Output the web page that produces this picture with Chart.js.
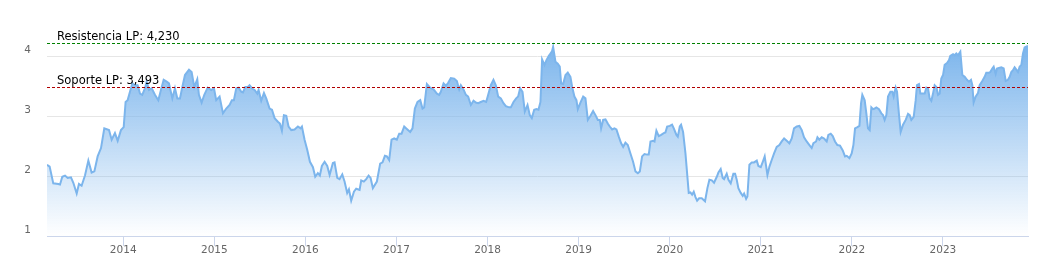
<!DOCTYPE html>
<html>
<head>
<meta charset="utf-8">
<script src="https://cdn.jsdelivr.net/npm/chart.js@4/dist/chart.umd.min.js"></script>
<style>
html,body{margin:0;padding:0;background:#fff;}
#wrap{position:relative;width:1043px;height:279px;}
</style>
</head>
<body>
<div id="wrap"><canvas id="c" width="1043" height="279"></canvas></div>
<script>
// x positions in decimal years
const dates = [
2013.163,2013.192,2013.232,2013.287,2013.306,2013.331,2013.361,2013.390,2013.426,2013.452,2013.489,2013.514,2013.543,2013.580,2013.617,2013.653,2013.683,2013.719,2013.756,2013.792,2013.844,2013.873,2013.909,2013.939,2013.975,
2014.005,2014.026,2014.048,2014.074,2014.100,2014.129,2014.158,2014.184,2014.209,2014.239,2014.257,2014.283,2014.312,2014.348,2014.385,2014.414,2014.444,2014.477,2014.502,2014.539,2014.568,2014.594,2014.623,2014.649,2014.678,2014.722,2014.751,2014.780,2014.813,2014.831,2014.861,2014.890,2014.927,2014.967,2014.996,
2015.021,2015.058,2015.095,2015.131,2015.168,2015.193,2015.215,2015.241,2015.267,2015.296,2015.314,2015.340,2015.369,2015.387,2015.413,2015.442,2015.472,2015.486,2015.515,2015.545,2015.570,2015.607,2015.633,2015.662,2015.698,2015.720,2015.742,2015.764,2015.790,2015.815,2015.845,2015.881,2015.918,2015.947,2015.962,2015.991,
2016.020,2016.050,2016.083,2016.108,2016.137,2016.159,2016.181,2016.211,2016.240,2016.266,2016.302,2016.320,2016.350,2016.375,2016.405,2016.430,2016.459,2016.478,2016.503,2016.533,2016.558,2016.595,2016.613,2016.642,2016.668,2016.694,2016.716,2016.741,2016.785,2016.821,2016.847,2016.873,2016.895,2016.920,2016.946,2016.975,
2017.004,2017.030,2017.056,2017.085,2017.114,2017.151,2017.176,2017.202,2017.231,2017.261,2017.286,2017.304,2017.334,2017.370,2017.407,2017.444,2017.469,2017.487,2017.517,2017.542,2017.568,2017.597,2017.634,2017.663,2017.689,2017.707,2017.736,2017.762,2017.787,2017.817,2017.846,2017.872,2017.897,2017.926,2017.956,2017.985,
2018.007,2018.036,2018.065,2018.091,2018.117,2018.146,2018.175,2018.201,2018.237,2018.256,2018.285,2018.314,2018.336,2018.358,2018.384,2018.409,2018.439,2018.464,2018.486,2018.512,2018.537,2018.559,2018.581,2018.599,2018.625,2018.647,2018.673,2018.691,2018.709,2018.720,2018.746,2018.771,2018.793,2018.808,2018.830,2018.856,2018.881,2018.910,2018.929,2018.954,2018.976,2018.991,
2019.020,2019.050,2019.075,2019.101,2019.130,2019.159,2019.185,2019.211,2019.233,2019.247,2019.269,2019.295,2019.320,2019.342,2019.368,2019.393,2019.415,2019.441,2019.467,2019.489,2019.514,2019.540,2019.569,2019.598,2019.624,2019.650,2019.672,2019.697,2019.723,2019.752,2019.770,2019.789,2019.818,2019.833,2019.854,2019.880,2019.906,2019.935,2019.953,2019.972,
2020.001,2020.026,2020.045,2020.074,2020.089,2020.111,2020.125,2020.147,2020.173,2020.191,2020.209,2020.228,2020.246,2020.264,2020.283,2020.301,2020.323,2020.352,2020.388,2020.414,2020.436,2020.462,2020.487,2020.517,2020.535,2020.560,2020.582,2020.597,2020.626,2020.645,2020.670,2020.699,2020.718,2020.736,2020.754,2020.780,2020.802,2020.817,2020.839,2020.853,2020.875,2020.901,2020.926,2020.956,2020.974,
2021.000,2021.022,2021.043,2021.073,2021.095,2021.120,2021.146,2021.175,2021.204,2021.230,2021.256,2021.285,2021.314,2021.340,2021.365,2021.395,2021.424,2021.450,2021.475,2021.504,2021.534,2021.559,2021.578,2021.607,2021.622,2021.643,2021.669,2021.695,2021.724,2021.742,2021.768,2021.790,2021.815,2021.841,2021.870,2021.900,2021.925,2021.944,2021.973,2021.998,
2022.017,2022.035,2022.061,2022.083,2022.101,2022.115,2022.141,2022.159,2022.177,2022.196,2022.214,2022.232,2022.251,2022.269,2022.298,2022.324,2022.342,2022.360,2022.379,2022.397,2022.423,2022.445,2022.459,2022.481,2022.496,2022.518,2022.536,2022.562,2022.591,2022.617,2022.635,2022.653,2022.679,2022.701,2022.715,2022.737,2022.752,2022.781,2022.800,2022.818,2022.836,2022.854,2022.873,2022.891,2022.909,2022.928,2022.946,2022.964,2022.982,
2023.001,2023.019,2023.045,2023.067,2023.081,2023.111,2023.129,2023.147,2023.165,2023.191,2023.213,2023.239,2023.264,2023.286,2023.308,2023.323,2023.337,2023.359,2023.385,2023.403,2023.432,2023.458,2023.476,2023.506,2023.520,2023.542,2023.557,2023.579,2023.594,2023.615,2023.641,2023.667,2023.689,2023.714,2023.733,2023.751,2023.769,2023.787,2023.806,2023.824,2023.842,2023.861,2023.879,2023.897,2023.923,2023.934
];
const values = [
2.19,2.16,1.88,1.87,1.86,1.99,2.01,1.97,1.98,1.89,1.71,1.87,1.84,2.01,2.26,2.06,2.08,2.33,2.47,2.80,2.77,2.61,2.72,2.59,2.77,
2.82,3.24,3.27,3.41,3.55,3.52,3.52,3.38,3.36,3.47,3.58,3.44,3.47,3.36,3.27,3.44,3.61,3.58,3.55,3.30,3.47,3.30,3.30,3.49,3.69,3.78,3.74,3.49,3.62,3.36,3.23,3.36,3.48,3.44,3.47,
3.27,3.33,3.05,3.13,3.19,3.27,3.27,3.47,3.48,3.41,3.40,3.49,3.49,3.52,3.47,3.44,3.38,3.44,3.26,3.39,3.30,3.13,3.11,2.97,2.91,2.88,2.76,3.02,3.01,2.83,2.77,2.78,2.83,2.80,2.83,2.61,
2.44,2.24,2.15,1.99,2.05,2.01,2.17,2.24,2.17,2.02,2.22,2.23,1.97,1.95,2.03,1.91,1.72,1.78,1.59,1.74,1.79,1.77,1.93,1.91,1.95,2.01,1.97,1.80,1.91,2.21,2.23,2.34,2.33,2.27,2.61,2.63,
2.61,2.71,2.71,2.83,2.79,2.74,2.80,3.13,3.24,3.27,3.13,3.15,3.54,3.48,3.45,3.38,3.36,3.41,3.55,3.51,3.56,3.64,3.63,3.59,3.45,3.52,3.45,3.36,3.33,3.19,3.26,3.23,3.22,3.24,3.26,3.24,
3.36,3.52,3.61,3.52,3.33,3.30,3.22,3.17,3.15,3.15,3.24,3.30,3.33,3.47,3.41,3.08,3.19,3.02,2.97,3.11,3.12,3.11,3.24,3.95,3.86,3.94,4.01,4.05,4.09,4.16,3.91,3.88,3.83,3.55,3.54,3.69,3.73,3.66,3.49,3.33,3.27,3.12,
3.23,3.33,3.30,2.94,3.01,3.09,3.02,2.94,2.94,2.80,2.94,2.95,2.88,2.83,2.78,2.80,2.78,2.66,2.55,2.49,2.56,2.52,2.38,2.24,2.08,2.05,2.08,2.33,2.37,2.36,2.36,2.58,2.59,2.58,2.76,2.67,2.69,2.72,2.73,2.83,
2.84,2.86,2.80,2.69,2.66,2.83,2.86,2.74,2.38,2.05,1.72,1.73,1.69,1.74,1.65,1.59,1.63,1.63,1.58,1.80,1.94,1.93,1.89,1.99,2.06,2.12,1.97,1.95,2.04,1.94,1.88,2.04,2.04,1.94,1.80,1.72,1.67,1.71,1.62,1.66,2.19,2.23,2.23,2.26,2.17,
2.15,2.24,2.33,2.02,2.16,2.27,2.38,2.49,2.52,2.58,2.63,2.59,2.55,2.63,2.80,2.83,2.84,2.77,2.65,2.58,2.52,2.47,2.55,2.58,2.65,2.61,2.65,2.63,2.58,2.69,2.71,2.67,2.58,2.52,2.51,2.43,2.33,2.34,2.30,2.38,
2.52,2.80,2.82,2.84,3.22,3.36,3.27,3.05,2.80,2.77,3.15,3.12,3.13,3.15,3.12,3.05,3.02,2.94,3.02,3.33,3.41,3.41,3.33,3.48,3.41,3.02,2.74,2.86,2.94,3.04,3.02,2.94,2.99,3.27,3.52,3.54,3.38,3.38,3.38,3.48,3.47,3.30,3.26,3.38,3.52,3.49,3.36,3.38,3.63,
3.69,3.86,3.89,3.94,4.01,4.04,4.02,4.05,4.02,4.08,3.69,3.66,3.61,3.58,3.61,3.52,3.23,3.33,3.39,3.52,3.59,3.66,3.73,3.73,3.74,3.80,3.83,3.71,3.80,3.81,3.82,3.80,3.59,3.61,3.66,3.74,3.77,3.82,3.78,3.74,3.83,3.86,4.05,4.15,4.17,4.17
];
const yearTicks = [2014,2015,2016,2017,2018,2019,2020,2021,2022,2023];
const yTicks = [1,2,3,4];
const refValues = [4.230, 3.493];
const refLabels = ['Resistencia LP: 4,230', 'Soporte LP: 3,493'];
const refColors = ['#008000', '#b00000'];

const points = dates.map((d, i) => ({x: d, y: values[i]}));

const refLines = {
  id: 'refLines',
  afterDatasetsDraw(chart) {
    const {ctx, chartArea, scales} = chart;
    refValues.forEach((v, i) => {
      const y = Math.round(scales.y.getPixelForValue(v));
      ctx.save();
      ctx.fillStyle = refColors[i];
      for (let x = chartArea.left; x < chartArea.right; x += 5) {
        ctx.fillRect(x, y, Math.min(3, chartArea.right - x), 1);
      }
      ctx.restore();
      ctx.save();
      ctx.fillStyle = '#000000';
      ctx.font = '11.5px "DejaVu Sans"';
      ctx.textAlign = 'left';
      ctx.textBaseline = 'alphabetic';
      ctx.fillText(refLabels[i], chartArea.left + 10, y - 3.5);
      ctx.restore();
    });
  }
};

new Chart(document.getElementById('c'), {
  type: 'line',
  data: {
    datasets: [{
      data: points,
      borderColor: '#7cb5ec',
      borderWidth: 2,
      pointRadius: 0,
      tension: 0,
      fill: 'start',
      backgroundColor(ctx) {
        const ca = ctx.chart.chartArea;
        if (!ca) return 'rgba(124,181,236,0.5)';
        const top = ctx.chart.scales.y.getPixelForValue(4.17);
        const g = ctx.chart.ctx.createLinearGradient(0, top, 0, ca.bottom);
        g.addColorStop(0, 'rgba(124,181,236,1)');
        g.addColorStop(1, 'rgba(124,181,236,0)');
        return g;
      }
    }]
  },
  options: {
    responsive: false,
    animation: false,
    layout: {padding: {top: 10, right: 15, left: 0, bottom: 0}},
    plugins: {legend: {display: false}, tooltip: {enabled: false}},
    scales: {
      x: {
        type: 'linear',
        min: dates[0],
        max: dates[dates.length - 1],
        afterBuildTicks(s) { s.ticks = yearTicks.map(v => ({value: v})); },
        afterFit(s) { s.height = 43; s.paddingLeft = 0; s.paddingRight = 0; },
        grid: {drawOnChartArea: false, drawTicks: true, tickLength: 10, color: '#ccd6eb', lineWidth: 1},
        border: {display: true, color: '#ccd6eb', width: 1},
        ticks: {
          autoSkip: false, maxRotation: 0, padding: -2,
          color: '#666666',
          font: {family: '"DejaVu Sans"', size: 10.5},
          callback: v => String(v)
        }
      },
      y: {
        type: 'linear',
        min: 1,
        max: 4.777,
        afterBuildTicks(s) { s.ticks = yTicks.map(v => ({value: v})); },
        afterFit(s) { s.width = 47; s.paddingTop = 0; s.paddingBottom = 0; },
        grid: {color: '#e6e6e6', lineWidth: 1, drawTicks: false},
        border: {display: false},
        ticks: {
          padding: 16, labelOffset: -6,
          color: '#666666',
          font: {family: '"DejaVu Sans"', size: 10.5},
          callback: v => String(v)
        }
      }
    }
  },
  plugins: [refLines]
});
</script>
</body>
</html>
